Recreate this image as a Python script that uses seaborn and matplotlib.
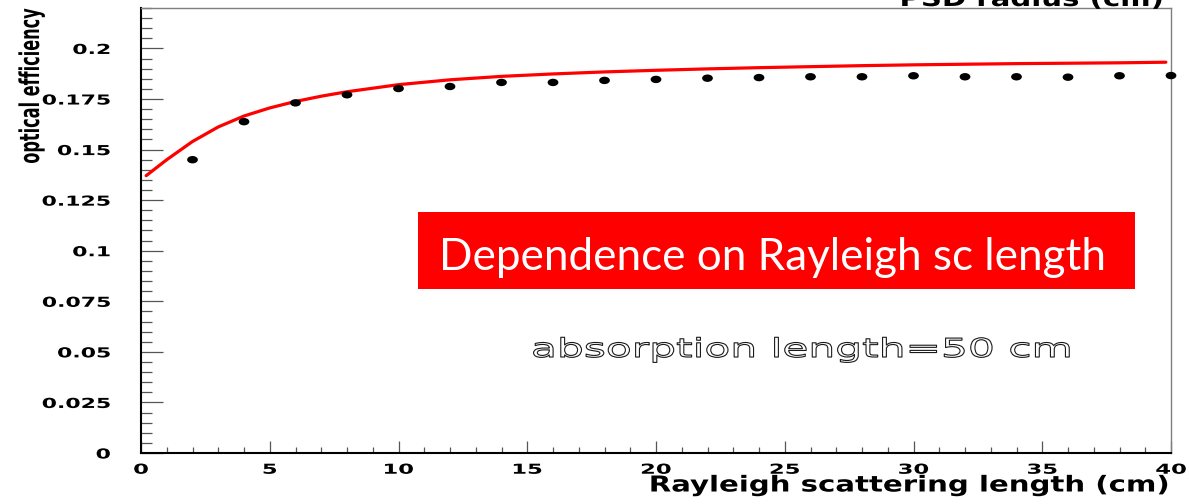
import matplotlib
matplotlib.use("Agg")
import matplotlib.pyplot as plt
import seaborn as sns
from matplotlib.colors import to_rgba
from matplotlib.markers import MarkerStyle
from matplotlib.patches import Rectangle
from matplotlib.path import Path
from matplotlib.patheffects import AbstractPathEffect
from matplotlib.ticker import MultipleLocator
from matplotlib.transforms import Affine2D

# Measured optical efficiency vs Rayleigh scattering length (absorption length 50 cm)
scatter_length = [2, 4, 6, 8, 10, 12, 14, 16, 18, 20,
                  22, 24, 26, 28, 30, 32, 34, 36, 38, 40]
efficiency = [0.1450, 0.1638, 0.1731, 0.1771, 0.1802, 0.1812, 0.1832, 0.1832, 0.1842, 0.1847,
              0.1853, 0.1856, 0.1860, 0.1860, 0.1865, 0.1860, 0.1860, 0.1858, 0.1865, 0.1866]

# Model curve
curve_length = [0.2, 1, 2, 3, 4, 5, 6, 7, 8, 10, 12, 14, 16, 18,
                20, 22, 24, 26, 28, 30, 32, 34, 36, 38, 39.8]
curve_efficiency = [0.1371, 0.1450, 0.1540, 0.1612, 0.1666, 0.1706, 0.1738, 0.1764, 0.1786,
                    0.1821, 0.1845, 0.1862, 0.1874, 0.1884, 0.1892, 0.1899, 0.1905, 0.1910,
                    0.1915, 0.1919, 0.1922, 0.1925, 0.1927, 0.1929, 0.1932]

x_ticks = [0, 5, 10, 15, 20, 25, 30, 35, 40]
x_tick_labels = ["0", "5", "10", "15", "20", "25", "30", "35", "40"]
y_ticks = [0, 0.025, 0.05, 0.075, 0.1, 0.125, 0.15, 0.175, 0.2]
y_tick_labels = ["0", "0.025", "0.05", "0.075", "0.1", "0.125", "0.15", "0.175", "0.2"]


class Stretch(AbstractPathEffect):
    """Scale text glyphs horizontally/vertically about an anchor; optional outline look."""

    def __init__(self, sx=1.0, sy=1.0, anchor="center", edge=None, lw=0.0, face=None):
        super().__init__()
        self.sx, self.sy, self.anchor = sx, sy, anchor
        self.edge, self.lw, self.face = edge, lw, face

    def draw_path(self, renderer, gc, tpath, affine, rgbFace=None):
        bb = tpath.get_extents(affine)
        if self.anchor == "right":
            cx = bb.x1
        elif self.anchor == "left":
            cx = bb.x0
        else:
            cx = 0.5 * (bb.x0 + bb.x1)
        cy = 0.5 * (bb.y0 + bb.y1)
        aff = affine + Affine2D().translate(-cx, -cy).scale(self.sx, self.sy).translate(cx, cy)
        gc0 = renderer.new_gc()
        gc0.copy_properties(gc)
        face = rgbFace
        if self.edge is not None:
            gc0.set_foreground(self.edge)
            gc0.set_linewidth(self.lw)
            face = to_rgba(self.face) if self.face is not None else None
        renderer.draw_path(gc0, tpath, aff, face)
        gc0.restore()


sns.set_theme(style="white")
plt.rcParams["font.family"] = ["DejaVu Sans"]

W, H = 1189, 504
fig = plt.figure(figsize=(W / 100, H / 100), dpi=100)
fig.patch.set_facecolor("white")
ax = fig.add_axes([141 / W, 1 - 453 / H, 1030 / W, 445 / H])
ax.set_facecolor("white")

sns.lineplot(x=curve_length, y=curve_efficiency, color="#ff0000", linewidth=2.3, ax=ax, zorder=2)

dot = MarkerStyle(Path.unit_circle().transformed(Affine2D().scale(1.45, 1.0)))
sns.scatterplot(x=scatter_length, y=efficiency, color="black", marker=dot, s=60,
                edgecolor="none", linewidth=0, ax=ax, zorder=3, clip_on=False)

ax.set_xlim(0, 40)
ax.set_ylim(0, 0.22)

ax.set_xticks(x_ticks)
ax.set_xticklabels(x_tick_labels)
ax.set_yticks(y_ticks)
ax.set_yticklabels(y_tick_labels)
ax.xaxis.set_minor_locator(MultipleLocator(1))
ax.yaxis.set_minor_locator(MultipleLocator(0.005))

tick_col = "#555555"
ax.tick_params(axis="y", which="major", direction="in", length=15.8, width=0.9,
               color=tick_col, pad=22, labelsize=9.9, left=True, right=False)
ax.tick_params(axis="y", which="minor", direction="in", length=7.9, width=0.9,
               color=tick_col, left=True, right=False)
ax.tick_params(axis="x", which="major", direction="in", length=8.6, width=0.9,
               color=tick_col, pad=7, labelsize=9.9, bottom=True, top=False)
ax.tick_params(axis="x", which="minor", direction="in", length=4.3, width=0.9,
               color=tick_col, bottom=True, top=False)

for lbl in ax.get_yticklabels():
    lbl.set_fontweight("bold")
    lbl.set_color("black")
    lbl.set_path_effects([Stretch(sx=1.6, anchor="right")])
for lbl in ax.get_xticklabels():
    lbl.set_fontweight("bold")
    lbl.set_color("black")
    lbl.set_path_effects([Stretch(sx=1.65, anchor="center")])

for side in ("left", "bottom"):
    ax.spines[side].set_color("black")
    ax.spines[side].set_linewidth(1.5)
for side in ("top", "right"):
    ax.spines[side].set_color("#7f7f7f")
    ax.spines[side].set_linewidth(1.0)
ax.grid(False)

xl = ax.set_xlabel("Rayleigh scattering length (cm)", fontsize=15.8, fontweight="bold", color="black")
ax.xaxis.set_label_coords((1171 - 141) / 1030, -(491.5 - 453) / 445)
xl.set_ha("right")
xl.set_va("baseline")
xl.set_path_effects([Stretch(sx=1.33, anchor="right")])

yl = ax.set_ylabel("optical efficiency", fontsize=11.6, fontweight="bold", color="black")
ax.yaxis.set_label_coords((31.5 - 141) / 1030, (453 - 85.5) / 445)
yl.set_rotation_mode("default")
yl.set_ha("center")
yl.set_va("center")
yl.set_path_effects([Stretch(sx=1.69, anchor="center")])

fig.text(1164 / W, 1 - 6 / H, "PSD radius (cm)", ha="right", va="baseline", fontsize=15.8,
         fontweight="bold", color="black", path_effects=[Stretch(sx=1.33, anchor="right")])

ax.add_patch(Rectangle((0.2692, 0.3685), 0.6958, 0.1737, transform=ax.transAxes,
                       facecolor="#ff0000", edgecolor="none", zorder=4))
ax.text(0.2893, 0.4112, "Dependence on Rayleigh sc length", transform=ax.transAxes,
        color="white", fontsize=31.7, family="Lato", ha="left", va="baseline", zorder=5)

ax.text(0.642, 0.2157, "absorption length=50 cm", transform=ax.transAxes, ha="center",
        va="baseline", fontsize=18.7, family="DejaVu Sans", color="black", zorder=5,
        path_effects=[Stretch(sx=1.63, anchor="center", edge="#1a1a1a", lw=0.8, face="white")])

fig.savefig("out.png", dpi=100)
